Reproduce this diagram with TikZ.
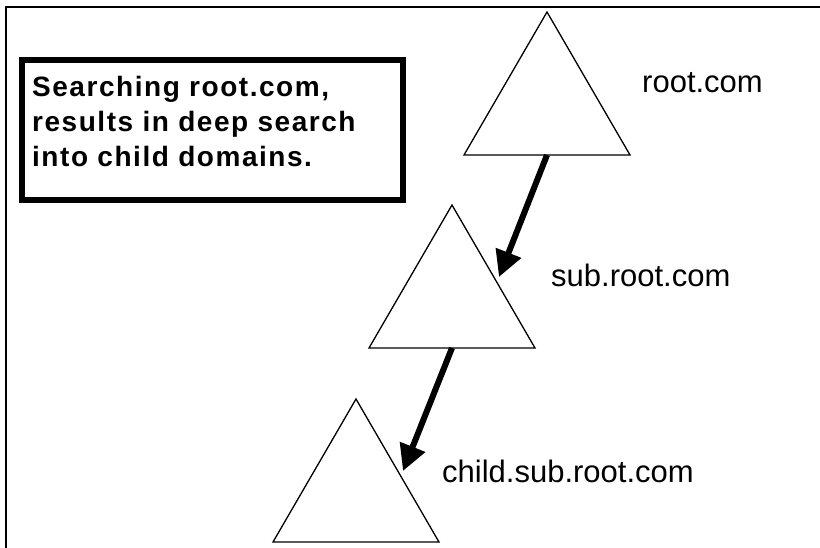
\documentclass[tikz,border=0pt]{standalone}
\usepackage{fontspec}
\setmainfont{Liberation Sans}
\newfontfamily\notefont[LetterSpace=5.5]{Liberation Sans}
\usetikzlibrary{arrows.meta}
\tikzstyle{domtri}=[draw, line width=1.3pt, line join=miter]
\tikzstyle{search}=[line width=6pt, -{Triangle[length=26pt,width=26pt]}]
\tikzstyle{dname}=[anchor=base west, inner sep=0pt, font=\fontsize{31}{31}\selectfont]
\tikzstyle{note}=[draw, line width=6pt, minimum width=381pt, minimum height=140pt]
\tikzstyle{notetext}=[align=left, inner sep=0pt, anchor=north west, font=\notefont\bfseries\fontsize{28}{35}\selectfont]
\newcommand{\domtree}[3]{
	\coordinate (#1) at (#2,#3);
	\coordinate (#1base) at (#2,#3+143);
	\coordinate (#1side) at (#2+47,#3+72);
	\draw[domtri] (#1) -- ++(-83,143) -- ++(166,0) -- cycle;
}

\begin{document}
\begin{tikzpicture}[x=1pt,y=-1pt]
\useasboundingbox (0,0) rectangle (820,548);
\draw[line width=1.6pt] (6,548) -- (6,7) -- (820,7);
\node[note] (note) at (212.5,130) {};
\node[notetext] (notetxt) at (32,76.5) {Searching root.com,\\results in deep search\\into child domains.};
\foreach \n/\x/\y in {a/547/12,b/452/205,c/356/399}{
	\domtree{\n}{\x}{\y}
	}
\node[dname] (roota) at (642,93) {root.com};
\node[dname] (rootb) at (551,287) {sub.root.com};
\node[dname] (rootc) at (442,482) {child.sub.root.com};
\draw[search] (abase) -- (bside);
\draw[search] (bbase) -- (cside);
\end{tikzpicture}
\end{document}
